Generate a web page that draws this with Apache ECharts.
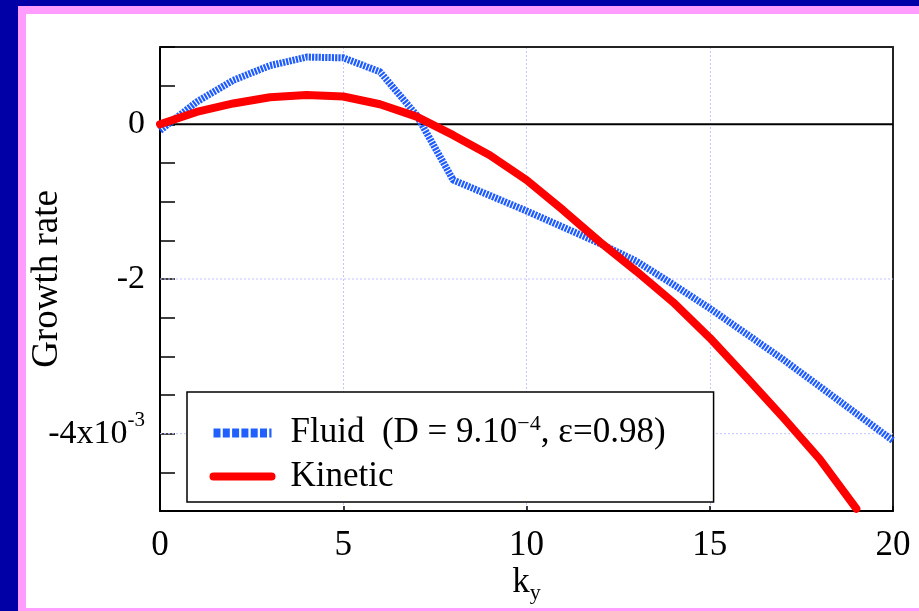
<!DOCTYPE html>
<html>
<head>
<meta charset="utf-8">
<script src="https://cdn.jsdelivr.net/npm/echarts@6/dist/echarts.min.js"></script>
<style>
  html, body { margin: 0; padding: 0; width: 919px; height: 611px; overflow: hidden; }
  #bgBlue { position: absolute; left: 0; top: 0; width: 919px; height: 611px; background: #0000a6; }
  #bgPink { position: absolute; left: 18px; top: 6px; width: 901px; height: 605px; background: #ff9dff; }
  #bgWhite { position: absolute; left: 26px; top: 14px; width: 893px; height: 594px; background: #ffffff; }
  #chart { position: absolute; left: 0; top: 0; width: 919px; height: 611px; }
</style>
</head>
<body>
<div id="bgBlue"></div>
<div id="bgPink"></div>
<div id="bgWhite"></div>
<div id="chart"></div>
<script>
// ---- data (growth rate in units of 1e-3) ----
const kFluid = [0,1,2,3,4,5,6,7,8,9,10,11,12,13,14,15,16,17,18,19,20];
const fluidGrowth = [-0.08,0.29,0.57,0.76,0.87,0.86,0.68,0.12,-0.72,-0.92,-1.12,-1.33,-1.54,-1.77,-2.07,-2.38,-2.71,-3.04,-3.39,-3.74,-4.09];
const kKinetic = [0,1,2,3,4,5,6,7,8,9,10,11,12,13,14,15,16,17,18,19];
const kineticGrowth = [0.0,0.16,0.27,0.35,0.38,0.36,0.26,0.10,-0.14,-0.40,-0.72,-1.11,-1.52,-1.90,-2.30,-2.76,-3.27,-3.79,-4.33,-4.97];
const seriesNames = ['Fluid', 'Kinetic'];
const xTickValues = [0, 5, 10, 15, 20];
const yLabelValues = [0, -2, -4];
const yLabelTexts = ['0', '-2', '-4x10'];
const yLabelSup = ['', '', '-3'];
const yGridValues = [-2, -4];
const zeroLineValue = 0;
const xRange = [0, 20];
const yRange = [-5, 1];

const FONT = 'Liberation Serif, Times New Roman, serif';

function pairs(xs, ys) { return xs.map((x, i) => [x, ys[i]]); }

const chart = echarts.init(document.getElementById('chart'), null, { renderer: 'canvas' });

const gridSeries = yGridValues.map((v) => ({
  type: 'line', silent: true, symbol: 'none', z: 1,
  data: [[xRange[0], v], [xRange[1], v]],
  lineStyle: { color: '#c4c4ff', width: 1, type: [2, 2] },
  emphasis: { disabled: true }
}));

const option = {
  animation: false,
  backgroundColor: 'transparent',
  grid: { left: 160, right: 26, top: 47, bottom: 100, containLabel: false, outerBoundsMode: 'none' },
  xAxis: [{
    type: 'value', min: xRange[0], max: xRange[1], interval: 5,
    axisLine: { show: true, onZero: false, lineStyle: { color: '#000', width: 2 } },
    axisTick: { show: true, inside: true, length: 5, lineStyle: { color: '#000', width: 1.5 } },
    axisLabel: { margin: 17, color: '#000', fontFamily: FONT, fontSize: 35,
      formatter: (v) => xTickValues.indexOf(v) >= 0 ? String(v) : '' },
    splitLine: { show: true, lineStyle: { color: '#c4c4ff', width: 1, type: [2, 2] } },
    name: '{k|k}{y|y}', nameLocation: 'middle', nameGap: 51, nameMoveOverlap: false,
    nameTextStyle: { color: '#000', fontFamily: FONT,
      rich: {
        k: { fontSize: 35, fontFamily: FONT, color: '#000' },
        y: { fontSize: 22, fontFamily: FONT, color: '#000', padding: [20, 0, 0, 0] }
      } }
  }, {
    type: 'value', position: 'top', min: xRange[0], max: xRange[1],
    axisLine: { show: true, onZero: false, lineStyle: { color: '#222', width: 2 } },
    axisTick: { show: false }, axisLabel: { show: false }, splitLine: { show: false }
  }],
  yAxis: [{
    type: 'value', min: yRange[0], max: yRange[1], interval: 0.5,
    axisLine: { show: true, onZero: false, lineStyle: { color: '#000', width: 2 } },
    axisTick: { show: true, inside: true, length: 15, lineStyle: { color: '#000', width: 1.5 } },
    axisLabel: { margin: 15, color: '#000', fontFamily: FONT, fontSize: 34,
      formatter: (v) => {
        const i = yLabelValues.indexOf(v);
        if (i < 0) return '';
        return yLabelSup[i] ? '{m|' + yLabelTexts[i] + '}{s|' + yLabelSup[i] + '}' : '{m|' + yLabelTexts[i] + '}';
      },
      rich: {
        m: { fontSize: 34, fontFamily: FONT, color: '#000' },
        s: { fontSize: 21, fontFamily: FONT, color: '#000', padding: [0, 0, 26, 0] }
      } },
    splitLine: { show: false },
    name: 'Growth rate', nameLocation: 'middle', nameGap: 94, nameMoveOverlap: false,
    nameTextStyle: { color: '#000', fontFamily: FONT, fontSize: 37 }
  }, {
    type: 'value', position: 'right', min: yRange[0], max: yRange[1],
    axisLine: { show: true, onZero: false, lineStyle: { color: '#222', width: 2 } },
    axisTick: { show: false }, axisLabel: { show: false }, splitLine: { show: false }
  }],
  legend: {
    show: true, orient: 'vertical', left: 187, top: 392,
    padding: [21, 48, 8, 22], itemGap: 6,
    itemWidth: 58, itemHeight: 10,
    backgroundColor: '#fff', borderColor: '#000', borderWidth: 1.5, borderRadius: 0,
    itemStyle: { color: 'rgba(0,0,0,0)', borderWidth: 0, opacity: 0 },
    data: [
      { name: seriesNames[0], lineStyle: { color: '#2060ff', width: 9, type: [7, 2.3] } },
      { name: seriesNames[1], lineStyle: { color: '#ff0000', width: 8, type: 'solid' } }
    ],
    formatter: (name) => name === seriesNames[0]
      ? '{f|Fluid  (D = 9.10}{s|\u22124}{a|, \u03b5=0.98)}'
      : '{f|Kinetic}',
    textStyle: {
      color: '#000', fontFamily: FONT, fontSize: 35,
      rich: {
        f: { fontSize: 35, fontFamily: FONT, color: '#000', lineHeight: 40, padding: [0, 0, 0, 14] },
        a: { fontSize: 35, fontFamily: FONT, color: '#000', lineHeight: 40 },
        s: { fontSize: 22, fontFamily: FONT, color: '#000', lineHeight: 22, padding: [0, 0, 18, 0] }
      }
    }
  },
  series: [
    ...gridSeries,
    {
      name: 'zero', type: 'line', silent: true, symbol: 'none', z: 1,
      data: [[xRange[0], zeroLineValue], [xRange[1], zeroLineValue]],
      lineStyle: { color: '#000', width: 2 }
    },
    {
      name: seriesNames[0], type: 'line', symbol: 'none', z: 3,
      data: pairs(kFluid, fluidGrowth),
      lineStyle: { color: '#1f5cff', width: 7, type: [2.2, 1.1], cap: 'butt' },
      itemStyle: { color: '#1f5cff' }
    },
    {
      name: seriesNames[1], type: 'line', symbol: 'none', z: 3,
      data: pairs(kKinetic, kineticGrowth),
      lineStyle: { color: '#ff0000', width: 8, join: 'round', cap: 'round' },
      itemStyle: { color: '#ff0000' }
    }
  ]
};
chart.setOption(option);
</script>
</body>
</html>
